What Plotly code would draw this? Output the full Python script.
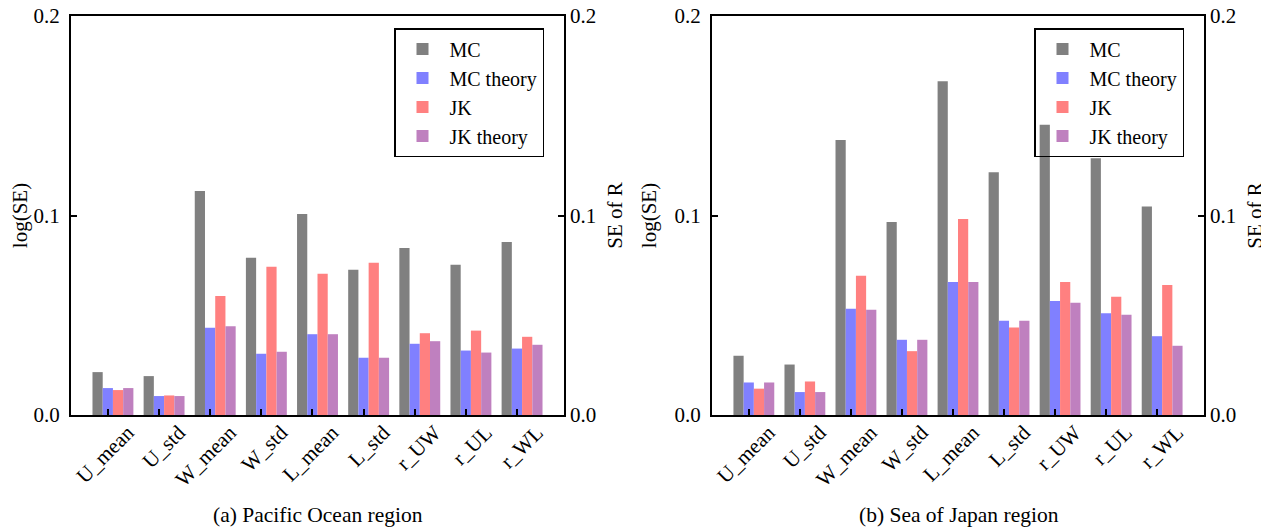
import plotly.graph_objects as go

categories = ["U_mean", "U_std", "W_mean", "W_std", "L_mean", "L_std", "r_UW", "r_UL", "r_WL"]
series_names = ["MC", "MC theory", "JK", "JK theory"]

pacific_mc = [0.0215, 0.0195, 0.1123, 0.0788, 0.1007, 0.0728, 0.0837, 0.0753, 0.0867]
pacific_mc_theory = [0.0135, 0.0095, 0.0437, 0.0307, 0.0405, 0.0287, 0.0357, 0.0323, 0.0333]
pacific_jk = [0.0125, 0.0098, 0.0597, 0.0743, 0.0708, 0.0763, 0.0410, 0.0423, 0.0392]
pacific_jk_theory = [0.0135, 0.0095, 0.0445, 0.0317, 0.0405, 0.0287, 0.0370, 0.0313, 0.0352]

japan_mc = [0.0297, 0.0253, 0.1378, 0.0968, 0.1673, 0.1217, 0.1455, 0.1287, 0.1045]
japan_mc_theory = [0.0163, 0.0115, 0.0532, 0.0377, 0.0667, 0.0472, 0.0572, 0.0510, 0.0395]
japan_jk = [0.0132, 0.0168, 0.0698, 0.0320, 0.0983, 0.0438, 0.0667, 0.0593, 0.0652]
japan_jk_theory = [0.0163, 0.0115, 0.0528, 0.0377, 0.0667, 0.0472, 0.0563, 0.0503, 0.0347]

y_ticks = [0.0, 0.1, 0.2]
captions = ["(a) Pacific Ocean region", "(b) Sea of Japan region"]

colors = ["#808080", "#8080ff", "#ff8080", "#bf80bf"]
offsets = [-0.3, -0.1, 0.1, 0.3]
FONT = "Liberation Serif, Times New Roman, serif"

# page body has an 8px margin: figure is drawn 8px right/down
W, H = 1261, 521
PL, PR, PT, PB = 63, 1196, 8, 407  # plot-area box in figure px
PW, PH = PR - PL, PB - PT

fig = go.Figure()

panels = [
    ([pacific_mc, pacific_mc_theory, pacific_jk, pacific_jk_theory], "x", "y", "y2", "legend"),
    ([japan_mc, japan_mc_theory, japan_jk, japan_jk_theory], "x2", "y3", "y4", "legend2"),
]
for series, xa, ya, ya2, lg in panels:
    for name, vals, col, off in zip(series_names, series, colors, offsets):
        fig.add_trace(go.Bar(
            x=categories, y=vals, name=name, marker_color=col,
            marker_line_width=0, width=0.2, offset=off,
            xaxis=xa, yaxis=ya, legend=lg,
        ))
    # empty trace so the right-hand "SE of R" axis is created
    fig.add_trace(go.Scatter(x=[], y=[], xaxis=xa, yaxis=ya2, showlegend=False,
                             hoverinfo="skip", mode="markers"))

fig.update_layout(barmode="overlay")

xcommon = dict(
    range=[-0.72, 8.92], showline=True, linewidth=2, linecolor="black", mirror=True,
    ticks="inside", ticklen=6, tickwidth=1.5, tickcolor="black", tickangle=-45,
    ticklabelshift=20, ticklabelstandoff=-5, ticklabeloverflow="allow",
    showgrid=False, zeroline=False, tickfont=dict(family=FONT, size=21, color="black"),
)
ycommon = dict(
    range=[0, 0.2], tickvals=y_ticks, tickformat=".1f", showline=True, linewidth=2,
    linecolor="black", mirror="ticks", ticks="inside", ticklen=6, tickwidth=1.5,
    tickcolor="black", showgrid=False, zeroline=False, ticklabelstandoff=5,
    ticklabeloverflow="allow",
    tickfont=dict(family=FONT, size=21, color="black"),
    title=dict(text="log(SE)", font=dict(family=FONT, size=21, color="black"), standoff=12),
)
y2common = dict(
    range=[0, 0.2], tickvals=y_ticks, tickformat=".1f", side="right", showline=False,
    ticks="", showgrid=False, zeroline=False, ticklabelstandoff=5,
    ticklabeloverflow="allow",
    tickfont=dict(family=FONT, size=21, color="black"),
    title=dict(text="SE of R", font=dict(family=FONT, size=21, color="black"), standoff=12),
)

fig.update_layout(
    xaxis=dict(domain=[0, (556 - PL) / PW], anchor="y", **xcommon),
    xaxis2=dict(domain=[(704 - PL) / PW, 1.0], anchor="y3", **xcommon),
    yaxis=dict(domain=[0, 1], anchor="x", **ycommon),
    yaxis2=dict(anchor="x", overlaying="y", **y2common),
    yaxis3=dict(domain=[0, 1], anchor="x2", **ycommon),
    yaxis4=dict(anchor="x2", overlaying="y3", **y2common),
)

legend_common = dict(
    bgcolor="rgba(0,0,0,0)", bordercolor="black", borderwidth=1.5,
    font=dict(family=FONT, size=20, color="black"), xanchor="left", yanchor="top",
    itemwidth=44, tracegroupgap=0,
)
fig.update_layout(
    legend=dict(x=(386 - PL) / PW, y=1 - (20 - PT) / PH, **legend_common),
    legend2=dict(x=(1026 - PL) / PW, y=1 - (20 - PT) / PH, **legend_common),
)

for cap, cx in zip(captions, [310, 951]):
    fig.add_annotation(
        text=cap, x=(cx - PL) / PW, y=(PB - 507) / PH, xref="paper", yref="paper",
        xanchor="center", yanchor="middle", showarrow=False,
        font=dict(family=FONT, size=21.5, color="black"),
    )

fig.update_layout(
    width=W, height=H,
    margin=dict(l=PL, r=W - PR, t=PT, b=H - PB, autoexpand=False),
    paper_bgcolor="white", plot_bgcolor="white", showlegend=True,
)

fig.write_html("out.html")
